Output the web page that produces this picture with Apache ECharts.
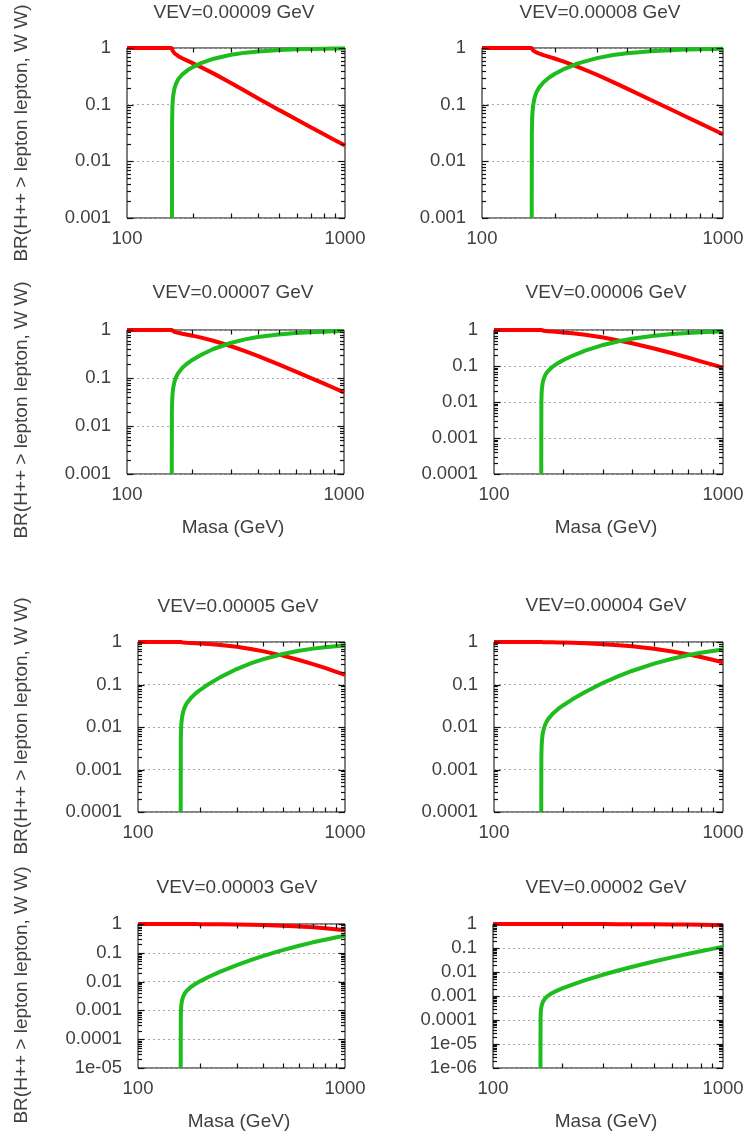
<!DOCTYPE html>
<html><head><meta charset="utf-8">
<script src="https://cdn.jsdelivr.net/npm/echarts@6/dist/echarts.min.js"></script>
<style>html,body{margin:0;padding:0;background:#fff}#c{width:747px;height:1136px}</style>
</head><body><div id="c"></div><script>
// ---- data ----
const masses = [100, 160.8, 161, 161.5, 162, 163, 165, 168, 172, 180, 190, 200, 220, 250, 300, 350, 400, 500, 600, 700, 800, 900, 1000];
const panelTitles = ['VEV=0.00009 GeV','VEV=0.00008 GeV','VEV=0.00007 GeV','VEV=0.00006 GeV','VEV=0.00005 GeV','VEV=0.00004 GeV','VEV=0.00003 GeV','VEV=0.00002 GeV'];
const yMins = [0.001, 0.001, 0.001, 0.0001, 0.0001, 0.0001, 0.00001, 0.000001];
const yTickLabels = ['1','0.1','0.01','0.001','0.0001','1e-05','1e-06'];
const xTickLabels = {100:'100', 1000:'1000'};
const yName = 'BR(H++ > lepton lepton, W W)';
const xName = 'Masa (GeV)';

const ll9 = [1, 1, 0.951, 0.912, 0.887, 0.853, 0.808, 0.762, 0.718, 0.653, 0.592, 0.540, 0.454, 0.353, 0.241, 0.172, 0.129, 0.0801, 0.0545, 0.0395, 0.0300, 0.0236, 0.0190];
const ww9 = [null, 0.001, 0.0494, 0.0885, 0.113, 0.147, 0.192, 0.238, 0.283, 0.347, 0.408, 0.460, 0.546, 0.647, 0.759, 0.828, 0.871, 0.920, 0.946, 0.961, 0.970, 0.976, 0.981];
const ll8 = [1, 1, 0.969, 0.943, 0.927, 0.903, 0.871, 0.837, 0.803, 0.751, 0.699, 0.653, 0.571, 0.466, 0.337, 0.250, 0.192, 0.122, 0.0846, 0.0619, 0.0473, 0.0372, 0.0301];
const ww8 = [null, 0.001, 0.0314, 0.0571, 0.0734, 0.0970, 0.129, 0.163, 0.197, 0.249, 0.301, 0.347, 0.429, 0.534, 0.663, 0.750, 0.808, 0.878, 0.915, 0.938, 0.953, 0.963, 0.970];
const ll7 = [1, 1, 0.981, 0.966, 0.956, 0.941, 0.920, 0.897, 0.874, 0.837, 0.798, 0.762, 0.694, 0.598, 0.464, 0.363, 0.288, 0.192, 0.136, 0.101, 0.0779, 0.0618, 0.0503];
const ww7 = [null, 0.001, 0.0187, 0.0343, 0.0445, 0.0593, 0.0802, 0.103, 0.126, 0.163, 0.202, 0.238, 0.306, 0.402, 0.536, 0.637, 0.712, 0.808, 0.864, 0.899, 0.922, 0.938, 0.950];
const ll6 = [1, 1, 0.990, 0.981, 0.976, 0.967, 0.955, 0.942, 0.928, 0.905, 0.880, 0.856, 0.808, 0.734, 0.616, 0.513, 0.429, 0.306, 0.226, 0.172, 0.135, 0.109, 0.0893];
const ww6 = [null, 0.0001, 0.0102, 0.0188, 0.0245, 0.0329, 0.0449, 0.0582, 0.0722, 0.0950, 0.120, 0.144, 0.192, 0.266, 0.384, 0.487, 0.571, 0.694, 0.774, 0.828, 0.865, 0.891, 0.911];
const ll5 = [1, 1, 0.995, 0.991, 0.988, 0.984, 0.978, 0.971, 0.964, 0.952, 0.938, 0.925, 0.897, 0.851, 0.769, 0.686, 0.609, 0.477, 0.377, 0.302, 0.245, 0.202, 0.169];
const ww5 = [null, 0.0001, 0.00493, 0.00917, 0.0120, 0.0161, 0.0222, 0.0290, 0.0362, 0.0482, 0.0617, 0.0751, 0.103, 0.149, 0.231, 0.314, 0.391, 0.523, 0.623, 0.698, 0.755, 0.798, 0.831];
const ll4 = [1, 1, 0.998, 0.996, 0.995, 0.993, 0.991, 0.988, 0.985, 0.980, 0.974, 0.968, 0.955, 0.933, 0.891, 0.843, 0.792, 0.691, 0.597, 0.514, 0.443, 0.383, 0.332];
const ww4 = [null, 0.0001, 0.00202, 0.00377, 0.00492, 0.00666, 0.00918, 0.0120, 0.0151, 0.0203, 0.0262, 0.0321, 0.0448, 0.0667, 0.110, 0.158, 0.208, 0.309, 0.403, 0.486, 0.557, 0.617, 0.668];
const ll3 = [1, 1, 0.999, 0.999, 0.998, 0.998, 0.997, 0.996, 0.995, 0.993, 0.992, 0.990, 0.985, 0.978, 0.963, 0.944, 0.923, 0.876, 0.824, 0.769, 0.715, 0.662, 0.611];
const ww3 = [null, 0.00001, 0.000641, 0.00120, 0.00157, 0.00212, 0.00293, 0.00385, 0.00484, 0.00651, 0.00844, 0.0104, 0.0147, 0.0221, 0.0375, 0.0559, 0.0768, 0.124, 0.176, 0.231, 0.285, 0.338, 0.389];
const ll2 = [1, 1, 1, 1, 1, 1, 0.999, 0.999, 0.999, 0.999, 0.998, 0.998, 0.997, 0.996, 0.992, 0.988, 0.984, 0.973, 0.959, 0.944, 0.927, 0.908, 0.888];
const ww2 = [null, 0.000001, 0.000127, 0.000237, 0.000310, 0.000420, 0.000581, 0.000763, 0.000960, 0.00130, 0.00168, 0.00207, 0.00293, 0.00446, 0.00765, 0.0116, 0.0162, 0.0273, 0.0406, 0.0560, 0.0731, 0.0919, 0.112];

const leptonSeries = [ll9, ll8, ll7, ll6, ll5, ll4, ll3, ll2];
const wwSeries = [ww9, ww8, ww7, ww6, ww5, ww4, ww3, ww2];

// ---- layout (pixels) ----
const boxes = [
  [127, 48, 345, 218], [482, 48, 723, 218],
  [127, 330, 344, 474], [494, 330, 723, 474],
  [138, 642, 345, 812], [494, 642, 723, 812],
  [138, 924, 345, 1068], [493, 924, 723, 1068]
];
const titlePos = [[234,13],[600,13],[233,293],[606,293],[238,607],[606,606],[237,888],[606,888]];
const yNamePos = [[22,133],[22,410],[22,726],[22,995]];
const xNamePos = [[233,528],[606,528],[239,1122],[606,1122]];

const FONT = '"Liberation Sans", Arial, sans-serif';
const TXT = '#404040';
const RED = '#ff0000';
const GREEN = '#1cbd1c';

const grids = [], xAxes = [], yAxes = [], series = [], graphics = [];

boxes.forEach((b, i) => {
  const yMin = yMins[i];
  grids.push({left: b[0], top: b[1], width: b[2] - b[0], height: b[3] - b[1],
    show: true, borderColor: '#000', borderWidth: 1, backgroundColor: 'transparent', outerBoundsMode: 'none', containLabel: false});
  xAxes.push({type: 'log', logBase: 10, gridIndex: i, min: 100, max: 1000,
    axisLine: {show: false}, axisTick: {show: false}, splitLine: {show: false},
    axisLabel: {margin: 11, color: TXT, fontSize: 18.5, fontFamily: FONT, showMinLabel: true, showMaxLabel: true,
      formatter: v => xTickLabels[Math.round(v)] || ''}});
  yAxes.push({type: 'log', logBase: 10, gridIndex: i, min: yMin, max: 1,
    axisLine: {show: false}, axisTick: {show: false},
    splitLine: {show: true, lineStyle: {color: '#a8a8a8', type: [2, 3], width: 1}},
    axisLabel: {margin: 16, color: TXT, fontSize: 18.5, fontFamily: FONT, showMinLabel: true, showMaxLabel: true,
      formatter: v => yTickLabels[-Math.round(Math.log10(v))] || ''}});
  const toPairs = arr => masses.map((m, j) => [m, arr[j]]).filter(p => p[1] != null);
  series.push({type: 'line', name: 'lepton lepton', xAxisIndex: i, yAxisIndex: i, data: toPairs(leptonSeries[i]),
    showSymbol: false, symbol: 'none', lineStyle: {color: RED, width: 4}, itemStyle: {color: RED}, z: 3, animation: false});
  series.push({type: 'line', name: 'W W', xAxisIndex: i, yAxisIndex: i, data: toPairs(wwSeries[i]),
    showSymbol: false, symbol: 'none', lineStyle: {color: GREEN, width: 4}, itemStyle: {color: GREEN}, z: 4, animation: false});
  graphics.push({type: 'text', x: titlePos[i][0], y: titlePos[i][1],
    style: {text: panelTitles[i], fill: TXT, fontSize: 19, fontFamily: FONT, align: 'center', verticalAlign: 'middle'}});
});
yNamePos.forEach(p => graphics.push({type: 'text', x: p[0], y: p[1], rotation: Math.PI / 2,
  style: {text: yName, fill: TXT, fontSize: 19, fontFamily: FONT, align: 'center', verticalAlign: 'middle'}}));
xNamePos.forEach(p => graphics.push({type: 'text', x: p[0], y: p[1],
  style: {text: xName, fill: TXT, fontSize: 19, fontFamily: FONT, align: 'center', verticalAlign: 'middle'}}));

const chart = echarts.init(document.getElementById('c'), null, {renderer: 'canvas'});
chart.setOption({animation: false, backgroundColor: '#fff', grid: grids, xAxis: xAxes, yAxis: yAxes, series: series});

// ---- inward mirror ticks (gnuplot style), placed through the axes' own scales ----
const tickGraphics = [];
function tickLine(x1, y1, x2, y2) {
  tickGraphics.push({type: 'line', z: 50, silent: true, shape: {x1: x1, y1: y1, x2: x2, y2: y2}, style: {stroke: '#111', lineWidth: 1.2}});
}
boxes.forEach((b, i) => {
  const yMin = yMins[i];
  const toPx = (x, y) => chart.convertToPixel({gridIndex: i}, [x, y]);
  for (let k = 2; k <= 9; k++) {
    const pb = toPx(100 * k, yMin), pt = toPx(100 * k, 1);
    const x = Math.round(pb[0]) + 0.5;
    tickLine(x, pb[1], x, pb[1] - 4.5);
    tickLine(x, pt[1], x, pt[1] + 4.5);
  }
  const e0 = Math.round(Math.log10(yMin));
  for (let e = e0; e <= 0; e++) {
    const base = Math.pow(10, e);
    const ks = e < 0 ? [1, 2, 3, 4, 5, 6, 7, 8, 9] : [1];
    ks.forEach(k => {
      const L = k === 1 ? 6.5 : 4;
      const pl = toPx(100, k * base), pr = toPx(1000, k * base);
      const y = Math.round(pl[1]) + 0.5;
      tickLine(pl[0], y, pl[0] + L, y);
      tickLine(pr[0], y, pr[0] - L, y);
    });
  }
});
chart.setOption({graphic: graphics.concat(tickGraphics)});
</script></body></html>
